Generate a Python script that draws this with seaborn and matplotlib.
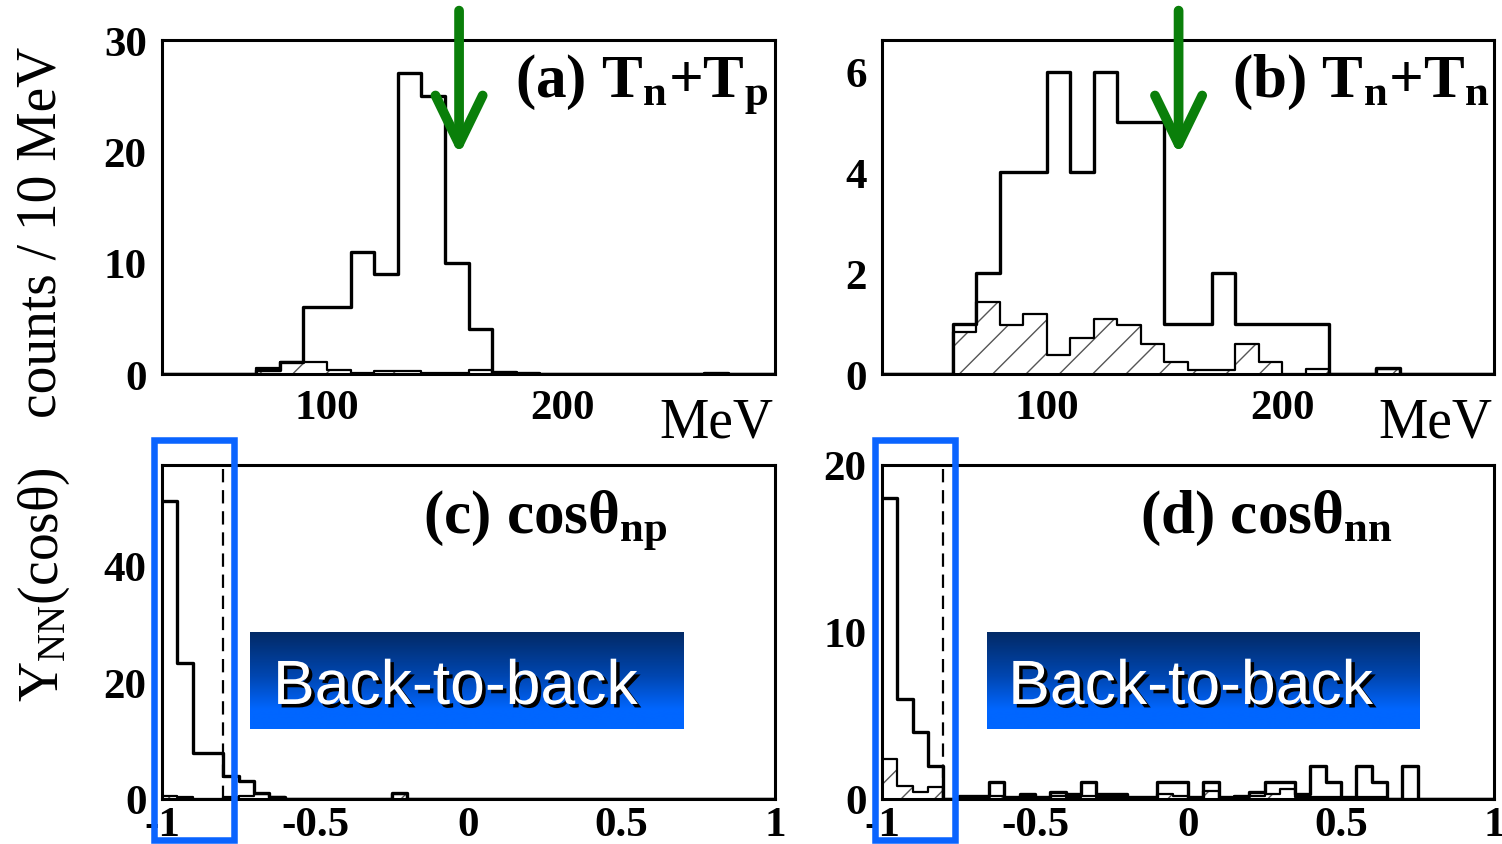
import numpy as np
import matplotlib
matplotlib.use("Agg")
import matplotlib.pyplot as plt
import matplotlib.patheffects as pe
from matplotlib.patches import Rectangle
from matplotlib.colors import LinearSegmentedColormap
from matplotlib.ticker import MultipleLocator
import seaborn as sns

# ---------------- data ----------------
# energy sums, 10 MeV bins from 30 to 290 MeV (bin lower edges 30,40,...,280)
e_bin_lo = list(range(30, 290, 10))
tnp_all = [0, 0, 0, 0, 0.4, 1.1, 6, 6, 11, 9, 27, 25, 10, 4, 0.15, 0.1,
           0, 0, 0, 0, 0, 0, 0, 0.1, 0, 0]
tnp_hatched = [0, 0, 0, 0, 0.5, 1.1, 1.1, 0.4, 0.1, 0.3, 0.3, 0.1, 0.1, 0.4, 0.1, 0,
               0, 0, 0, 0, 0, 0, 0, 0, 0, 0]
tnn_all = [0, 0, 0, 1, 2, 4, 4, 6, 4, 6, 5, 5, 1, 1, 2, 1,
           1, 1, 1, 0, 0, 0.12, 0, 0, 0, 0]
tnn_hatched = [0, 0, 0, 0.83, 1.43, 0.97, 1.2, 0.37, 0.71, 1.1, 0.97, 0.6, 0.23, 0.08, 0.08, 0.6,
               0.23, 0, 0.1, 0, 0, 0.1, 0, 0, 0, 0]

# opening-angle cosines, 0.05 bins from -1 to 1
cos_bin_lo = [round(-1 + 0.05 * i, 2) for i in range(40)]
cnp_all = [51, 23.2, 7.8, 7.8, 4.0, 3.1, 1.0, 0.3, 0, 0,
           0, 0, 0, 0, 0, 1.0, 0, 0, 0, 0,
           0, 0, 0, 0, 0, 0, 0, 0, 0, 0,
           0, 0, 0, 0, 0, 0, 0, 0, 0, 0]
cnp_hatched = [0.5, 0.3, 0, 0, 0.3, 0.5, 0.8, 0.3, 0, 0,
               0, 0, 0, 0, 0, 0.8, 0, 0, 0, 0,
               0, 0, 0, 0, 0, 0, 0, 0, 0, 0,
               0, 0, 0, 0, 0, 0, 0, 0, 0, 0]
cnn_all = [18, 6, 4, 2, 0, 0.2, 0.2, 1, 0.1, 0.3,
           0.1, 0.4, 0.3, 1, 0.3, 0.3, 0.1, 0.1, 1, 1,
           0.1, 1, 0.1, 0.2, 0.4, 1, 1, 0.3, 2, 1,
           0.1, 2, 1, 0, 2, 0, 0, 0, 0, 0]
cnn_hatched = [2.4, 0.8, 0.4, 0.7, 0, 0.1, 0.1, 0.2, 0, 0.1,
               0, 0.2, 0.1, 0.2, 0.1, 0.1, 0, 0, 0.3, 0.2,
               0, 0.5, 0, 0.1, 0.2, 0.3, 0.6, 0.1, 0.1, 0.1,
               0, 0.1, 0.1, 0, 0, 0, 0, 0, 0, 0]

e_ticks = [100, 200]
e_ticklabels = ["100", "200"]
cos_ticks = [-1, -0.5, 0, 0.5, 1]
cos_ticklabels = ["-1", "-0.5", "0", "0.5", "1"]
ytick_a = [0, 10, 20, 30]
ytick_b = [0, 2, 4, 6]
ytick_c = [0, 20, 40]
ytick_d = [0, 10, 20]

titles = ["(a) T$_{\\mathbf{n}}$+T$_{\\mathbf{p}}$",
          "(b) T$_{\\mathbf{n}}$+T$_{\\mathbf{n}}$",
          "(c) cosθ$_{\\mathbf{np}}$",
          "(d) cosθ$_{\\mathbf{nn}}$"]
arrow_energy = 156
cut_cos = -0.8
box_text = "Back-to-back"

# ---------------- style ----------------
sns.set_style("white")
plt.rcParams["font.family"] = ["Liberation Serif", "DejaVu Serif"]
plt.rcParams["mathtext.fontset"] = "custom"
plt.rcParams["mathtext.rm"] = "Liberation Serif"
plt.rcParams["mathtext.bf"] = "Liberation Serif:bold"
plt.rcParams["mathtext.it"] = "Liberation Serif:italic"
plt.rcParams["hatch.linewidth"] = 1.0
plt.rcParams["hatch.color"] = "#555555"
for key in ("text.color", "axes.labelcolor", "xtick.color", "ytick.color", "axes.edgecolor"):
    plt.rcParams[key] = "black"

W, H = 1502, 845
fig = plt.figure(figsize=(W / 100, H / 100), dpi=100)
fig.patch.set_facecolor("white")


def fr(x0, y0, x1, y1):
    return [x0 / W, 1 - y1 / H, (x1 - x0) / W, (y1 - y0) / H]


ax_a = fig.add_axes(fr(162, 41, 775, 375))
ax_b = fig.add_axes(fr(882, 41, 1494, 375))
ax_c = fig.add_axes(fr(162, 466, 775, 800))
ax_d = fig.add_axes(fr(882, 466, 1494, 800))


def draw_hist(ax, lo, width, total, hatched):
    edges = [float(v) for v in lo] + [float(lo[-1] + width)]
    centers = [(edges[i] + edges[i + 1]) / 2 for i in range(len(lo))]
    sns.histplot(x=centers, weights=hatched, bins=edges, element="step", fill=True,
                 color="#555555", facecolor="none", edgecolor="#555555", hatch="/",
                 linewidth=0, ax=ax)
    sns.histplot(x=centers, weights=hatched, bins=edges, element="step", fill=False,
                 color="black", linewidth=1.6, ax=ax)
    sns.histplot(x=centers, weights=total, bins=edges, element="step", fill=False,
                 color="black", linewidth=2.4, ax=ax)


def style_axes(ax, xlim, ylim, xt, xtl, xminor, yt, yminor, xpad):
    ax.set_xlim(*xlim)
    ax.set_ylim(*ylim)
    ax.set_xlabel("")
    ax.set_ylabel("")
    ax.set_xticks(xt)
    ax.set_xticklabels(xtl, fontsize=31, fontweight="bold", color="black")
    ax.set_yticks(yt)
    ax.set_yticklabels([str(v) for v in yt], fontsize=31, fontweight="bold", color="black")
    ax.xaxis.set_minor_locator(MultipleLocator(xminor))
    ax.yaxis.set_minor_locator(MultipleLocator(yminor))
    ax.tick_params(which="both", direction="in", top=False, right=False,
                   color="#333333", width=1.2)
    ax.tick_params(which="major", length=17)
    ax.tick_params(which="minor", length=8.5)
    ax.tick_params(axis="x", which="major", pad=xpad)
    ax.tick_params(axis="y", which="major", pad=11)
    for s in ax.spines.values():
        s.set_visible(True)
        s.set_linewidth(2.2)
        s.set_color("black")
    ax.set_facecolor("white")


draw_hist(ax_a, e_bin_lo, 10, tnp_all, tnp_hatched)
draw_hist(ax_b, e_bin_lo, 10, tnn_all, tnn_hatched)
draw_hist(ax_c, cos_bin_lo, 0.05, cnp_all, cnp_hatched)
draw_hist(ax_d, cos_bin_lo, 0.05, cnn_all, cnn_hatched)

style_axes(ax_a, (30, 290), (0, 30), e_ticks, e_ticklabels, 20, ytick_a, 2, 10.5)
style_axes(ax_b, (30, 290), (0, 6.63), e_ticks, e_ticklabels, 20, ytick_b, 0.5, 10.5)
style_axes(ax_c, (-1, 1), (0, 57.1), cos_ticks, cos_ticklabels, 0.1, ytick_c, 5, 5)
style_axes(ax_d, (-1, 1), (0, 20), cos_ticks, cos_ticklabels, 0.1, ytick_d, 2, 5)

# titles
ax_a.text(0.989, 0.832, titles[0], transform=ax_a.transAxes, ha="right", va="baseline",
          fontsize=44, fontweight="bold", color="black")
ax_b.text(0.9935, 0.832, titles[1], transform=ax_b.transAxes, ha="right", va="baseline",
          fontsize=44, fontweight="bold", color="black")
ax_c.text(0.8254, 0.799, titles[2], transform=ax_c.transAxes, ha="right", va="baseline",
          fontsize=44, fontweight="bold", color="black")
ax_d.text(0.835, 0.799, titles[3], transform=ax_d.transAxes, ha="right", va="baseline",
          fontsize=44, fontweight="bold", color="black")

# MeV labels
for ax in (ax_a, ax_b):
    ax.text(0.997, (375 - 437) / 334, "MeV", transform=ax.transAxes, ha="right",
            va="baseline", fontsize=40, color="black")

# y labels
fig.text(42 / W, 1 - 232 / H, "counts / 10 MeV", rotation=90, ha="center", va="center",
         fontsize=40, color="black")
fig.text(44 / W, 1 - 585 / H, "Y$_{\\mathrm{NN}}$(cosθ)", rotation=90, ha="center",
         va="center", fontsize=40, color="black")

# green arrows
green = "#0a7f0a"
for ax in (ax_a, ax_b):
    ax.annotate("", xy=(arrow_energy, 0.655), xycoords=("data", "axes fraction"),
                xytext=(arrow_energy, 1.088), textcoords=("data", "axes fraction"),
                annotation_clip=False,
                arrowprops=dict(arrowstyle="->,head_length=1.75,head_width=0.85",
                                color=green, lw=7, shrinkA=0, shrinkB=0,
                                mutation_scale=20, clip_on=False,
                                capstyle="round", joinstyle="round"))

# dashed cut lines
for ax in (ax_c, ax_d):
    ax.axvline(cut_cos, color="black", lw=1.6, dashes=(6, 3.5))

# gradient "Back-to-back" boxes
cmap = LinearSegmentedColormap.from_list(
    "btb", [(0, "#032a66"), (0.45, "#0046b0"), (0.8, "#0066ff"), (1, "#0066ff")])
grad = np.linspace(0, 1, 256)[:, None]
for (x0, x1, tx) in ((250, 684, 0.053), (987, 1420, 0.049)):
    bax = fig.add_axes(fr(x0, 633, x1, 730))
    bax.imshow(grad, aspect="auto", cmap=cmap, extent=[0, 1, 0, 1], origin="upper")
    bax.set_axis_off()
    bax.text(tx, 0.258, box_text, transform=bax.transAxes, ha="left", va="baseline",
             fontsize=45, color="white", family=["Liberation Sans", "DejaVu Sans"],
             path_effects=[pe.withSimplePatchShadow(offset=(2.5, -2.5),
                                                    shadow_rgbFace="black", alpha=1.0)])

# blue highlight rectangles
for (x0, x1) in ((154, 234), (875, 955)):
    fig.add_artist(Rectangle((x0 / W, 1 - 841 / H), (x1 - x0) / W, 400 / H,
                             transform=fig.transFigure, fill=False,
                             edgecolor="#0a64ff", lw=4.7, zorder=20))

fig.savefig("out.png", dpi=100, facecolor="white")
